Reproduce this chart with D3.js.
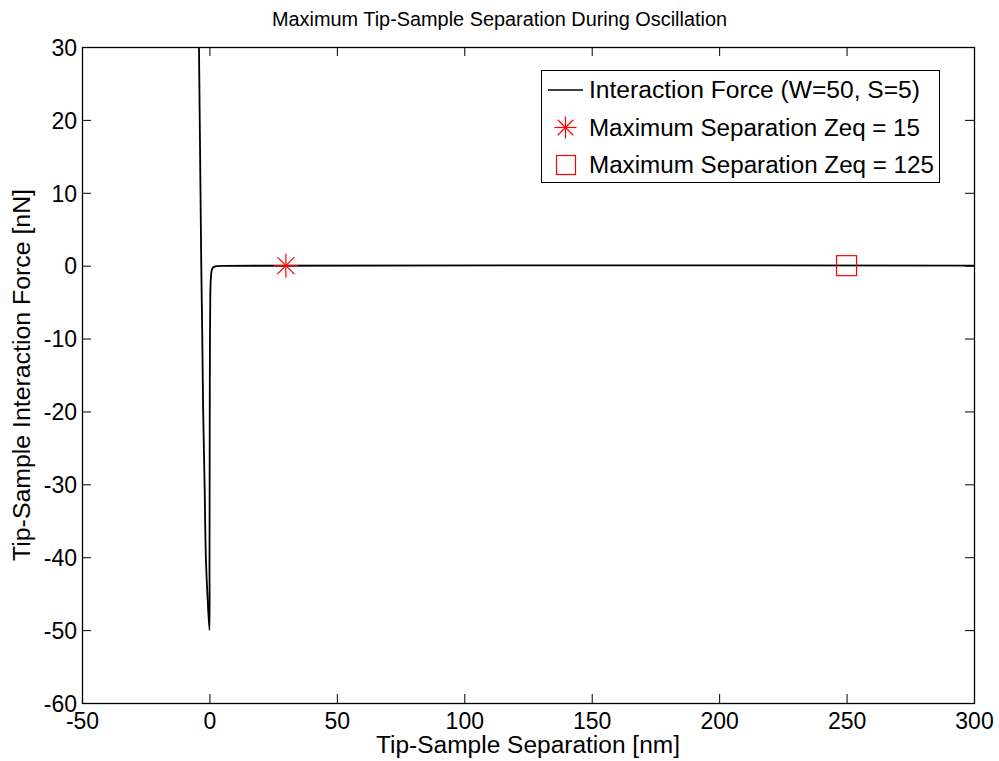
<!DOCTYPE html>
<html>
<head>
<meta charset="utf-8">
<script src="https://cdn.jsdelivr.net/npm/d3@7"></script>
<style>
  html, body { margin: 0; padding: 0; background: #fff; }
  svg { display: block; font-family: "Liberation Sans", Arial, Helvetica, sans-serif; }
</style>
</head>
<body>
<svg id="chart" width="999" height="761"></svg>
<script>
// Interaction force curve: repulsive branch (x < 0) and attractive branch (x >= 0)
const forceX = [-4.1, -3.8, -3.5, -3.2, -2.8, -2.45, -1.9, -1.4, -0.8, 0,
                0.03, 0.06, 0.1, 0.15, 0.2, 0.3, 0.4, 0.6, 0.8, 1.2, 2, 3, 5, 300];
const forceY = [30, 20, 10, 0, -10, -20, -30, -40, -45, -50,
                -41, -35, -25, -16, -11, -6, -3, -1.5, -0.8, -0.35, -0.14, -0.06, -0.02, 0];

// Maximum-separation markers
const starPoint = { x: 30, y: 0 };
const squarePoint = { x: 250, y: 0 };

const xTicks = [-50, 0, 50, 100, 150, 200, 250, 300];
const yTicks = [-60, -50, -40, -30, -20, -10, 0, 10, 20, 30];

const legendLabels = [
  "Interaction Force (W=50, S=5)",
  "Maximum Separation Zeq = 15",
  "Maximum Separation Zeq = 125"
];

const svg = d3.select("#chart");
const plotL = 82, plotR = 974, plotT = 47, plotB = 703;

const x = d3.scaleLinear().domain([-50, 300]).range([plotL, plotR]);
const y = d3.scaleLinear().domain([-60, 30]).range([plotB, plotT]);

const tickLen = 9;
const fontTick = 23;
const plainNum = d => String(d);   // ASCII hyphen for negatives

// Axes on all four sides with inward ticks
const gBottom = svg.append("g").attr("transform", `translate(0,${plotB})`)
  .call(d3.axisBottom(x).tickValues(xTicks).tickFormat(plainNum).tickSizeInner(-tickLen).tickSizeOuter(0).tickPadding(10));
const gTop = svg.append("g").attr("transform", `translate(0,${plotT})`)
  .call(d3.axisTop(x).tickValues(xTicks).tickSizeInner(-tickLen).tickSizeOuter(0).tickFormat(""));
const gLeft = svg.append("g").attr("transform", `translate(${plotL},0)`)
  .call(d3.axisLeft(y).tickValues(yTicks).tickFormat(plainNum).tickSizeInner(-tickLen).tickSizeOuter(0).tickPadding(5));
const gRight = svg.append("g").attr("transform", `translate(${plotR},0)`)
  .call(d3.axisRight(y).tickValues(yTicks).tickSizeInner(-tickLen).tickSizeOuter(0).tickFormat(""));

[gBottom, gTop, gLeft, gRight].forEach(g => {
  g.select(".domain").remove();
  g.selectAll(".tick line").attr("stroke", "#000").attr("stroke-width", 1);
  g.selectAll(".tick text")
    .attr("fill", "#000")
    .style("font-family", '"Liberation Sans", Arial, sans-serif')
    .style("font-size", fontTick + "px");
});
gLeft.selectAll(".tick text").attr("dy", "0.36em");
gBottom.selectAll(".tick text").attr("dy", "0.71em");

// Plot box
svg.append("rect")
  .attr("x", plotL + 0.5).attr("y", plotT + 0.5)
  .attr("width", plotR - plotL).attr("height", plotB - plotT)
  .attr("fill", "none").attr("stroke", "#000").attr("stroke-width", 1.3);

// Force curve
const pts = forceX.map((v, i) => [v, forceY[i]]);
svg.append("clipPath").attr("id", "plotclip").append("rect")
  .attr("x", plotL).attr("y", plotT).attr("width", plotR - plotL).attr("height", plotB - plotT);
svg.append("path")
  .datum(pts)
  .attr("clip-path", "url(#plotclip)")
  .attr("d", d3.line().x(d => x(d[0])).y(d => y(d[1])).curve(d3.curveCatmullRom.alpha(0.5)))
  .attr("fill", "none").attr("stroke", "#000").attr("stroke-width", 1.8)
  .attr("stroke-linejoin", "round");

// Star marker (asterisk with eight arms)
function star(g, cx, cy, r) {
  const d = r * Math.SQRT1_2;
  const segs = [[-r, 0, r, 0], [0, -r, 0, r], [-d, -d, d, d], [-d, d, d, -d]];
  g.selectAll(null).data(segs).enter().append("line")
    .attr("x1", s => cx + s[0]).attr("y1", s => cy + s[1])
    .attr("x2", s => cx + s[2]).attr("y2", s => cy + s[3])
    .attr("stroke", "#ff0000").attr("stroke-width", 1.2);
}
function square(g, cx, cy, s) {
  g.append("rect").attr("x", cx - s / 2).attr("y", cy - s / 2)
    .attr("width", s).attr("height", s)
    .attr("fill", "none").attr("stroke", "#ff0000").attr("stroke-width", 1.2);
}

star(svg.append("g"), x(starPoint.x), y(starPoint.y), 12);
square(svg.append("g"), x(squarePoint.x), y(squarePoint.y), 20);

// Legend
const lg = svg.append("g");
lg.append("rect").attr("x", 541.5).attr("y", 70.5).attr("width", 398).attr("height", 112)
  .attr("fill", "#fff").attr("stroke", "#000").attr("stroke-width", 1);
const rowY = [90, 127.5, 165];
const rowW = [331, 331, 345];
lg.append("line").attr("x1", 548).attr("x2", 583).attr("y1", rowY[0]).attr("y2", rowY[0])
  .attr("stroke", "#000").attr("stroke-width", 1.5);
star(lg, 565.5, rowY[1], 11);
square(lg, 566, rowY[2], 19);
lg.selectAll("text.leg").data(legendLabels).enter().append("text")
  .attr("x", 589).attr("y", (d, i) => rowY[i]).attr("dy", "0.36em")
  .attr("textLength", (d, i) => rowW[i]).attr("lengthAdjust", "spacingAndGlyphs")
  .style("font-size", "23px").attr("fill", "#000").text(d => d);

// Title and axis labels
svg.append("text").attr("x", 499.5).attr("y", 26).attr("text-anchor", "middle")
  .attr("textLength", 455).attr("lengthAdjust", "spacingAndGlyphs")
  .style("font-size", "20px").attr("fill", "#000")
  .text("Maximum Tip-Sample Separation During Oscillation");
svg.append("text").attr("x", 528).attr("y", 753).attr("text-anchor", "middle")
  .attr("textLength", 304).attr("lengthAdjust", "spacingAndGlyphs")
  .style("font-size", "23px").attr("fill", "#000")
  .text("Tip-Sample Separation [nm]");
svg.append("text").attr("transform", "translate(30,375) rotate(-90)").attr("text-anchor", "middle")
  .attr("textLength", 372).attr("lengthAdjust", "spacingAndGlyphs")
  .style("font-size", "23px").attr("fill", "#000")
  .text("Tip-Sample Interaction Force [nN]");
</script>
</body>
</html>
